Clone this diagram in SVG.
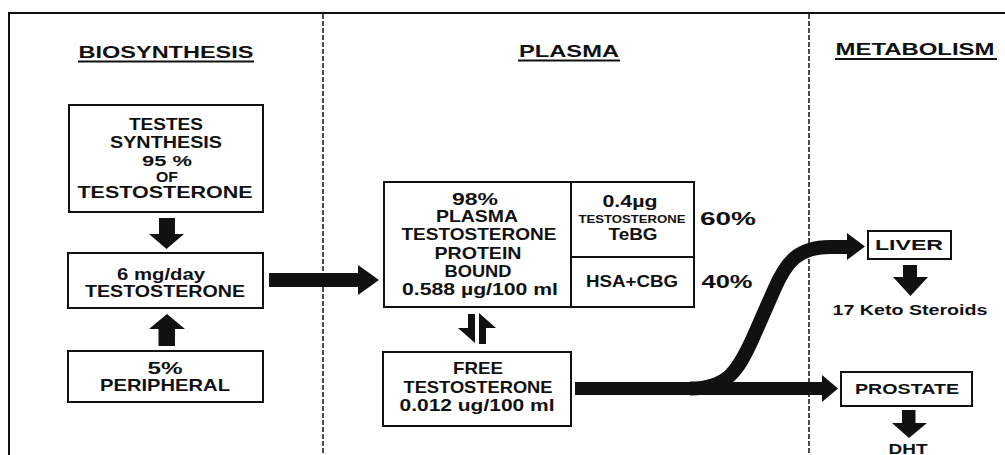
<svg xmlns="http://www.w3.org/2000/svg" width="1005" height="455" viewBox="0 0 1005 455">
<style>
  text { font-family: "Liberation Sans", Arial, sans-serif; font-weight: bold; fill: #111; text-anchor: middle; }
  .h { font-size: 16.5px; }
  .t { font-size: 16.5px; }
  .n { font-size: 15px; }
  .s { font-size: 11px; }
  .p { font-size: 18px; }
  .m { font-size: 14.5px; }
  .k { font-size: 14px; }
  .box { fill: #fff; stroke: #111; stroke-width: 2; }
  .frame { fill: none; stroke: #111; stroke-width: 2; }
  .dash { fill: none; stroke: #111; stroke-width: 1.5; stroke-dasharray: 5 2; }
  .ul { stroke: #111; stroke-width: 2; }
  .fill { fill: #111; stroke: none; }
  .band { fill: none; stroke: #111; stroke-width: 14; }
</style>

<g id="frame">
  <path class="frame" d="M9 455 V13 H1005"/>
  <line class="dash" x1="323" y1="14" x2="323" y2="455"/>
  <line class="dash" x1="809" y1="14" x2="809" y2="455"/>
</g>

<g id="headings">
  <text class="h" x="166" y="58" textLength="175" lengthAdjust="spacingAndGlyphs">BIOSYNTHESIS</text>
  <line class="ul" x1="78" y1="61.5" x2="254" y2="61.5"/>
  <text class="h" x="569" y="57" textLength="100" lengthAdjust="spacingAndGlyphs">PLASMA</text>
  <line class="ul" x1="518" y1="60.5" x2="620" y2="60.5"/>
  <text class="h" x="915" y="55" textLength="159" lengthAdjust="spacingAndGlyphs">METABOLISM</text>
  <line class="ul" x1="835" y1="59" x2="997" y2="59"/>
</g>

<g id="testes">
  <rect class="box" x="69" y="105" width="194" height="107"/>
  <text class="t" x="166" y="130" textLength="74" lengthAdjust="spacingAndGlyphs">TESTES</text>
  <text class="t" x="166" y="148" textLength="112" lengthAdjust="spacingAndGlyphs">SYNTHESIS</text>
  <text class="n" x="167" y="166" textLength="50" lengthAdjust="spacingAndGlyphs">95 %</text>
  <text class="n" x="167" y="182" textLength="22" lengthAdjust="spacingAndGlyphs">OF</text>
  <text class="t" x="165" y="198" textLength="175" lengthAdjust="spacingAndGlyphs">TESTOSTERONE</text>
</g>

<g id="daily">
  <rect class="box" x="68" y="253" width="195" height="55"/>
  <text class="t" x="161" y="280" textLength="88" lengthAdjust="spacingAndGlyphs">6 mg/day</text>
  <text class="t" x="165" y="297" textLength="160" lengthAdjust="spacingAndGlyphs">TESTOSTERONE</text>
</g>

<g id="peripheral">
  <rect class="box" x="68" y="351" width="195" height="51"/>
  <text class="t" x="165" y="374" textLength="35" lengthAdjust="spacingAndGlyphs">5%</text>
  <text class="t" x="165" y="391" textLength="130" lengthAdjust="spacingAndGlyphs">PERIPHERAL</text>
</g>

<g id="bound">
  <rect class="box" x="384" y="182" width="310" height="125"/>
  <line stroke="#111" stroke-width="2" x1="571" y1="182" x2="571" y2="307"/>
  <line stroke="#111" stroke-width="2" x1="571" y1="257" x2="694" y2="257"/>
  <text class="t" x="475" y="205" textLength="46" lengthAdjust="spacingAndGlyphs">98%</text>
  <text class="t" x="477" y="222" textLength="82" lengthAdjust="spacingAndGlyphs">PLASMA</text>
  <text class="t" x="479" y="240" textLength="155" lengthAdjust="spacingAndGlyphs">TESTOSTERONE</text>
  <text class="t" x="478" y="259" textLength="87" lengthAdjust="spacingAndGlyphs">PROTEIN</text>
  <text class="t" x="478" y="277" textLength="67" lengthAdjust="spacingAndGlyphs">BOUND</text>
  <text class="t" x="480" y="295" textLength="156" lengthAdjust="spacingAndGlyphs">0.588 µg/100 ml</text>
  <text class="t" x="630" y="207" textLength="55" lengthAdjust="spacingAndGlyphs">0.4µg</text>
  <text class="s" x="632" y="223" textLength="107" lengthAdjust="spacingAndGlyphs">TESTOSTERONE</text>
  <text class="t" x="633" y="240" textLength="49" lengthAdjust="spacingAndGlyphs">TeBG</text>
  <text class="t" x="632" y="287" textLength="92" lengthAdjust="spacingAndGlyphs">HSA+CBG</text>
  <text class="p" x="728" y="225" textLength="56" lengthAdjust="spacingAndGlyphs">60%</text>
  <text class="p" x="727" y="288" textLength="51" lengthAdjust="spacingAndGlyphs">40%</text>
</g>

<g id="free">
  <rect class="box" x="383" y="352" width="188" height="74"/>
  <text class="t" x="478" y="374" textLength="50" lengthAdjust="spacingAndGlyphs">FREE</text>
  <text class="t" x="478" y="393" textLength="149" lengthAdjust="spacingAndGlyphs">TESTOSTERONE</text>
  <text class="t" x="477" y="411" textLength="155" lengthAdjust="spacingAndGlyphs">0.012 ug/100 ml</text>
</g>

<g id="liver">
  <rect class="box" x="868" y="231" width="83" height="28"/>
  <text class="m" x="909" y="250" textLength="68" lengthAdjust="spacingAndGlyphs">LIVER</text>
</g>

<g id="keto">
  <text class="k" x="910" y="315" textLength="155" lengthAdjust="spacingAndGlyphs">17 Keto Steroids</text>
</g>

<g id="prostate">
  <rect class="box" x="841" y="372" width="131" height="34"/>
  <text class="m" x="907" y="394" textLength="104" lengthAdjust="spacingAndGlyphs">PROSTATE</text>
</g>

<g id="dht">
  <text class="m" x="908" y="454" textLength="39" lengthAdjust="spacingAndGlyphs">DHT</text>
</g>

<g id="connectors">
  <rect class="fill" x="159" y="218" width="16" height="17"/>
  <polygon class="fill" points="149,234 184,234 166.5,249"/>
  <rect class="fill" x="158.5" y="328" width="16.5" height="18"/>
  <polygon class="fill" points="149,329 185,329 167,314"/>
  <rect class="fill" x="269" y="273" width="91" height="14"/>
  <polygon class="fill" points="358,265 379,280 358,295"/>
  <polygon class="fill" points="468,314 475,314 475,343 458,328 468,328"/>
  <polygon class="fill" points="479,313 496,328 486,328 486,344 479,344"/>
  <rect class="fill" x="575" y="382" width="248" height="13"/>
  <polygon class="fill" points="822,375 838,388.5 822,402"/>
  <path class="band" d="M690 388.5 C728 388.5 738 370 752 340 L774 290 C786 262 798 247 830 247 L848 247"/>
  <polygon class="fill" points="847,233 865,246.5 847,260"/>
  <rect class="fill" x="903" y="265" width="14" height="13"/>
  <polygon class="fill" points="893,277 928,277 910.5,296"/>
  <rect class="fill" x="902" y="410" width="13.5" height="14"/>
  <polygon class="fill" points="892,423 927,423 909,438"/>
</g>
</svg>
